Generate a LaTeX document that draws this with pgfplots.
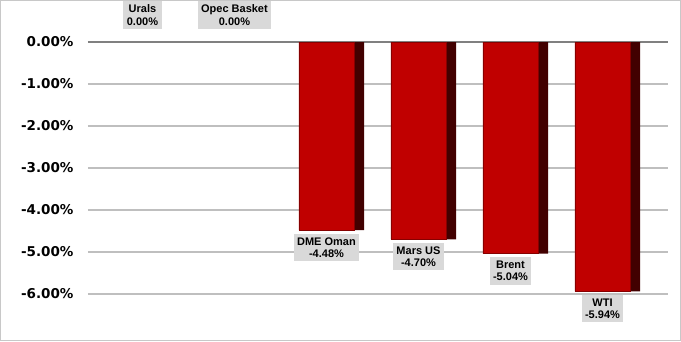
\documentclass[border=0pt]{standalone}
\usepackage{fontspec}
\setmainfont{Liberation Sans}
\newfontfamily\tickfont{DejaVu Sans}
\usepackage{pgfplots}
\pgfplotsset{compat=1.18}
\definecolor{barred}{HTML}{C00000}
\definecolor{barside}{HTML}{420000}
\definecolor{gridc}{HTML}{BFBFBF}
\definecolor{zeroc}{HTML}{808080}
\definecolor{lblbg}{HTML}{D9D9D9}
\definecolor{borderc}{HTML}{C8C8C8}
\begin{document}
\begin{tikzpicture}
\useasboundingbox (0,0) rectangle (681pt,341pt);
\draw[borderc, line width=0.8pt] (0.5pt,0.5pt) rectangle (680.5pt,340.5pt);
\begin{axis}[
  at={(88pt,299pt)}, anchor=north west,
  scale only axis, width=580pt, height=252pt,
  xmin=-0.592, xmax=5.712, ymin=-6, ymax=0,
  axis line style={draw=none},
  xtick=\empty,
  ytick={-6,-5,-4,-3,-2,-1,0},
  major tick length=0pt,
  ymajorgrids, grid style={gridc, line width=1.2pt},
  extra y ticks={0}, extra y tick labels={},
  extra y tick style={grid style={zeroc, line width=1.8pt}},
  yticklabel={\pgfmathprintnumber{\tick}\%},
  /pgf/number format/.cd, fixed, fixed zerofill, precision=2, assume math mode=true,
  /pgfplots/.cd,
  yticklabel style={font=\tickfont\bfseries\fontsize{13.5}{14}\selectfont, anchor=east, xshift=-11pt},
  clip=false,
]
% side faces
\addplot[ybar, bar width=10.5pt, bar shift=32.5pt, fill=barside, draw=none]
  coordinates {(2,-4.48) (3,-4.70) (4,-5.04) (5,-5.94)};
% front faces
\addplot[ybar, bar width=55pt, bar shift=0pt, fill=barred, draw=barred!70!black, line width=0.5pt]
  coordinates {(2,-4.48) (3,-4.70) (4,-5.04) (5,-5.94)};
% labels for negative bars
\addplot[draw=none, mark=none, point meta=explicit symbolic,
  nodes near coords, nodes near coords align={below=3.5pt},
  every node near coord/.append style={fill=lblbg, align=center, inner xsep=3.5pt, inner ysep=3.5pt,
    font=\bfseries\fontsize{11}{12.5}\selectfont}]
  coordinates {(2,-4.48) [DME Oman\\-4.48\%] (3,-4.70) [Mars US\\-4.70\%] (4,-5.04) [Brent\\-5.04\%] (5,-5.94) [WTI\\-5.94\%]};
% labels for zero values
\addplot[draw=none, mark=none, point meta=explicit symbolic,
  nodes near coords, nodes near coords align={above=13pt},
  every node near coord/.append style={fill=lblbg, align=center, inner xsep=3.5pt, inner ysep=3.5pt,
    font=\bfseries\fontsize{11}{12.5}\selectfont}]
  coordinates {(0,0) [Urals\\0.00\%] (1,0) [Opec Basket\\0.00\%]};
\end{axis}
\end{tikzpicture}
\end{document}
